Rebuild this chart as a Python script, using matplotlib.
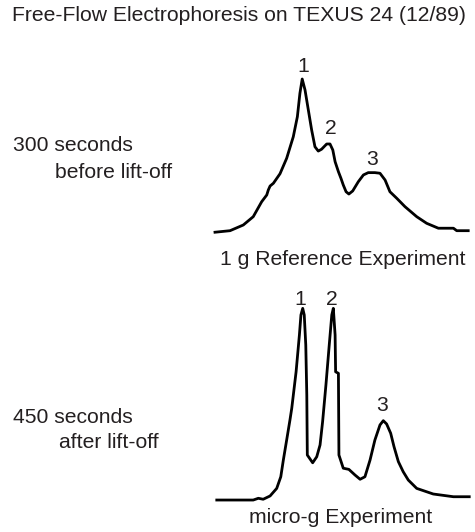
import numpy as np
import matplotlib
matplotlib.use("Agg")
import matplotlib.pyplot as plt

plt.rcParams['font.family'] = ['Liberation Sans', 'DejaVu Sans']

# 1 g reference run (300 s before lift-off): position across the chamber vs. signal
ref_x = [0, 5.9, 11.1, 15.0, 18.3, 20.3, 20.9, 21.6, 22.9, 25.5, 28.1, 30.7, 32.3,
         33.3, 34.2, 35.3, 36.6, 37.9, 39.2, 40.5, 41.8, 43.8, 45.1, 46.2, 47.1,
         48.4, 49.4, 50.3, 51.4, 52.5, 54.0, 56.2, 58.2, 60.1, 62.7, 64.7, 66.7,
         68.6, 71.3, 74.5, 79.1, 83.0, 87.6, 93.5, 94.8, 99.3]
ref_y = [0.5, 1.5, 5.2, 10.6, 20.3, 24.7, 27.9, 30.5, 32.3, 38.5, 48.5, 62.5, 75.5,
         90.7, 100, 92.9, 79.9, 66.9, 56.0, 53.2, 54.4, 57.8, 57.8, 53.9, 46.3,
         39.8, 35.5, 31.2, 26.8, 25.3, 27.3, 33.3, 37.7, 39.2, 39.2, 38.8, 34.4,
         26.8, 22.5, 17.1, 10.6, 6.3, 3.1, 3.1, 1.5, 1.5]

# micro-g run (450 s after lift-off)
mg_x = [0.7, 15.0, 17.0, 18.9, 21.6, 24.2, 25.8, 26.8, 28.1, 29.4, 30.1, 31.8,
        33.1, 33.7, 34.4, 35.0, 35.6, 36.0, 36.2, 38.3, 39.9, 41.2, 42.2, 43.5,
        44.8, 45.8, 46.4, 47.1, 47.3, 48.4, 48.6, 50.3, 52.5, 54.9, 56.9, 58.8,
        60.8, 62.7, 64.7, 66.0, 67.3, 68.9, 70.2, 71.9, 73.8, 75.8, 79.1, 85.6,
        93.5, 99.7]
mg_y = [0.5, 0.5, 1.4, 0.9, 2.6, 6.5, 12.5, 21.1, 31.4, 41.8, 47.8, 66.6,
        85.6, 95.9, 99.3, 95.9, 80.4, 54.6, 23.7, 19.7, 22.8, 28.9, 40.9, 59.8,
        80.4, 95.9, 99.3, 85.6, 66.6, 65.8, 23.7, 16.9, 16.3, 13.4, 11.2, 12.5,
        21.1, 31.4, 39.2, 41.4, 39.7, 34.9, 28.0, 20.3, 15.1, 10.8, 6.5, 3.6,
        2.2, 2.2]

# peak labels (x, baseline y) in data units
ref_peaks = {'1': (34.6, 104.7), '2': (45.5, 64.3), '3': (61.5, 44.2)}
mg_peaks = {'1': (33.3, 101.0), '2': (45.8, 101.0), '3': (65.4, 46.5)}

W, H = 475, 532
fig = plt.figure(figsize=(W / 100, H / 100), dpi=100)

def px(x, y):
    return x / W, 1 - y / H

fs = 15.2
ink = '#231f20'
ax1 = fig.add_axes([215 / W, 1 - 233 / H, 255 / W, 154 / H])
ax2 = fig.add_axes([215 / W, 1 - 501 / H, 255 / W, 194 / H])

for ax, xs, ys, peaks in [(ax1, ref_x, ref_y, ref_peaks), (ax2, mg_x, mg_y, mg_peaks)]:
    ax.plot(xs, ys, color='black', lw=2.0, solid_joinstyle='round', clip_on=False)
    for lab, (x, y) in peaks.items():
        ax.text(x, y, lab, ha='center', va='baseline', fontsize=fs, color=ink)
    ax.set_xlim(0, 100)
    ax.set_ylim(0, 100)
    ax.axis('off')

txt = dict(fontsize=fs, color=ink, va='baseline')
fig.text(*px(11.7, 20.7), "Free-Flow Electrophoresis on TEXUS 24 (12/89)", ha='left', **txt)
fig.text(*px(12.7, 150.7), "300 seconds", ha='left', **txt)
fig.text(*px(55, 177.7), "before lift-off", ha='left', **txt)
fig.text(*px(12.7, 423.3), "450 seconds", ha='left', **txt)
fig.text(*px(59.3, 448.3), "after lift-off", ha='left', **txt)
fig.text(*px(343, 265), "1 g Reference Experiment", ha='center', **txt)
fig.text(*px(341, 523.3), "micro-g Experiment", ha='center', **txt)

fig.savefig("out.png", dpi=100)
